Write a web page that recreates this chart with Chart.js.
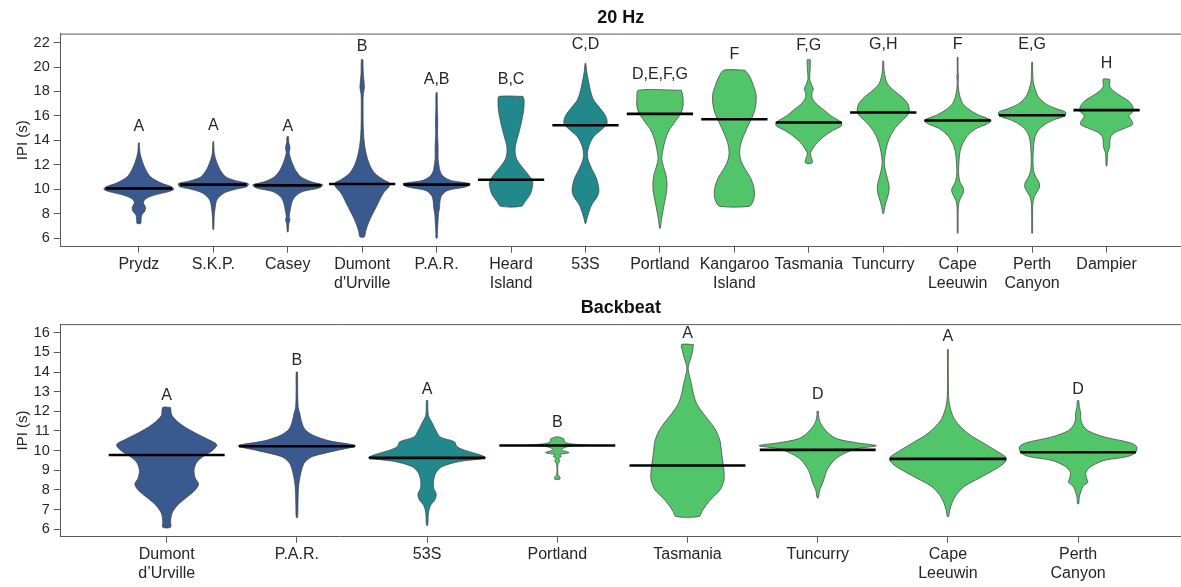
<!DOCTYPE html>
<html>
<head>
<meta charset="utf-8">
<script src="https://cdn.jsdelivr.net/npm/chart.js@4.4.1/dist/chart.umd.min.js"></script>
<style>
  body { margin: 0; background: #fff; }
  canvas { display: block; }
</style>
</head>
<body>
<canvas id="hzChart" width="1181" height="295"></canvas>
<canvas id="bbChart" width="1181" height="292"></canvas>
<script>
// ---- 20 Hz panel ----
var hzSites = ['Prydz', 'S.K.P.', 'Casey', ['Dumont', 'd\'Urville'], 'P.A.R.', ['Heard', 'Island'], '53S',
    'Portland', ['Kangaroo', 'Island'], 'Tasmania', 'Tuncurry', ['Cape', 'Leeuwin'], ['Perth', 'Canyon'], 'Dampier'];
var hzMedians = [10.07, 10.37, 10.31, 10.42, 10.37, 10.77, 15.24, 16.17, 15.73, 15.46, 16.28, 15.62, 16.06, 16.47];
var hzLetters = ['A', 'A', 'A', 'B', 'A,B', 'B,C', 'C,D', 'D,E,F,G', 'F', 'F,G', 'G,H', 'F', 'E,G', 'H'];
var hzLetterY = [15.13, 15.19, 15.13, 21.67, 18.95, 18.95, 21.81, 19.36, 20.99, 21.73, 21.81, 21.81, 21.81, 20.31];
var hzTicks = [6, 8, 10, 12, 14, 16, 18, 20, 22];
// violin outlines: [IPI, half width] from top to bottom
var hzProfiles = [
    [[13.8, 0.005], [13.0, 0.015], [12.3, 0.045], [11.5, 0.1], [11.0, 0.16], [10.5, 0.3], [10.2, 0.44], [10.0, 0.47],
     [9.8, 0.4], [9.5, 0.2], [9.2, 0.09], [8.9, 0.06], [8.5, 0.09], [8.2, 0.08], [7.9, 0.04], [7.5, 0.03], [7.2, 0.025]],
    [[13.9, 0.005], [13.0, 0.012], [12.5, 0.03], [12.0, 0.06], [11.5, 0.1], [11.0, 0.17], [10.7, 0.3], [10.45, 0.47],
     [10.2, 0.45], [10.0, 0.3], [9.7, 0.15], [9.3, 0.07], [9.0, 0.04], [8.5, 0.025], [8.0, 0.015], [7.5, 0.01], [7.0, 0.008], [6.7, 0.005]],
    [[14.3, 0.01], [13.8, 0.015], [13.4, 0.03], [13.0, 0.02], [12.5, 0.04], [12.0, 0.07], [11.5, 0.11], [11.0, 0.18],
     [10.6, 0.32], [10.35, 0.47], [10.1, 0.42], [9.8, 0.2], [9.4, 0.1], [9.0, 0.06], [8.5, 0.04], [8.0, 0.025],
     [7.7, 0.02], [7.5, 0.03], [7.2, 0.015], [6.8, 0.01], [6.5, 0.005]],
    [[20.6, 0.01], [19.5, 0.015], [18.8, 0.025], [18.3, 0.03], [17.8, 0.015], [16.5, 0.012], [15.0, 0.015], [14.0, 0.025],
     [13.0, 0.05], [12.0, 0.1], [11.3, 0.17], [10.8, 0.28], [10.5, 0.37], [10.2, 0.36], [9.8, 0.3], [9.3, 0.25],
     [8.8, 0.21], [8.2, 0.16], [7.6, 0.11], [7.0, 0.07], [6.5, 0.045], [6.1, 0.03]],
    [[17.9, 0.008], [16.5, 0.01], [15.5, 0.015], [14.5, 0.012], [13.5, 0.02], [12.5, 0.02], [12.0, 0.03], [11.4, 0.05],
     [11.0, 0.1], [10.7, 0.2], [10.45, 0.45], [10.2, 0.4], [9.9, 0.15], [9.5, 0.07], [9.0, 0.045], [8.5, 0.04],
     [8.0, 0.025], [7.5, 0.02], [7.0, 0.015], [6.5, 0.01], [6.0, 0.008]],
    [[17.6, 0.16], [17.3, 0.175], [16.5, 0.17], [15.5, 0.14], [14.5, 0.1], [13.6, 0.06], [13.0, 0.055], [12.4, 0.08],
     [11.8, 0.15], [11.2, 0.23], [10.6, 0.29], [10.0, 0.28], [9.5, 0.25], [9.0, 0.19], [8.6, 0.14]],
    [[20.3, 0.005], [19.5, 0.02], [18.7, 0.045], [18.0, 0.07], [17.3, 0.11], [16.6, 0.2], [16.0, 0.27], [15.4, 0.29],
     [14.9, 0.22], [14.3, 0.11], [13.6, 0.05], [12.9, 0.025], [12.3, 0.04], [11.6, 0.09], [11.0, 0.14], [10.4, 0.17],
     [9.8, 0.18], [9.3, 0.15], [8.8, 0.09], [8.2, 0.05], [7.6, 0.02], [7.2, 0.005]],
    [[18.1, 0.29], [17.5, 0.31], [16.8, 0.31], [16.2, 0.28], [15.5, 0.2], [14.8, 0.12], [14.0, 0.07], [13.2, 0.04],
     [12.5, 0.025], [11.8, 0.05], [11.2, 0.08], [10.5, 0.095], [9.8, 0.09], [9.0, 0.065], [8.2, 0.04], [7.5, 0.02], [6.8, 0.005]],
    [[19.75, 0.14], [19.3, 0.2], [18.6, 0.25], [17.8, 0.29], [17.0, 0.29], [16.2, 0.26], [15.4, 0.2], [14.6, 0.14],
     [13.8, 0.09], [13.0, 0.07], [12.3, 0.09], [11.6, 0.15], [10.9, 0.22], [10.2, 0.26], [9.5, 0.27], [9.0, 0.25], [8.6, 0.2]],
    [[20.6, 0.02], [20.0, 0.02], [19.5, 0.015], [19.0, 0.012], [18.6, 0.035], [18.2, 0.06], [17.8, 0.04], [17.4, 0.05],
     [17.0, 0.1], [16.5, 0.2], [16.0, 0.3], [15.5, 0.43], [15.2, 0.44], [14.8, 0.32], [14.3, 0.2], [13.8, 0.11],
     [13.3, 0.05], [12.9, 0.02], [12.5, 0.04], [12.15, 0.045]],
    [[20.5, 0.005], [19.8, 0.01], [19.2, 0.025], [18.6, 0.06], [18.0, 0.16], [17.5, 0.26], [17.0, 0.33], [16.5, 0.35],
     [16.1, 0.33], [15.6, 0.25], [15.0, 0.16], [14.4, 0.1], [13.8, 0.06], [13.2, 0.035], [12.6, 0.02], [12.1, 0.015],
     [11.5, 0.03], [10.9, 0.055], [10.2, 0.08], [9.6, 0.07], [9.0, 0.04], [8.5, 0.02], [8.0, 0.005]],
    [[20.8, 0.005], [19.5, 0.006], [19.2, 0.012], [18.8, 0.006], [18.2, 0.012], [17.6, 0.03], [17.0, 0.07], [16.5, 0.16],
     [16.1, 0.27], [15.8, 0.4], [15.6, 0.45], [15.3, 0.38], [15.0, 0.26], [14.5, 0.15], [14.0, 0.09], [13.4, 0.045],
     [12.8, 0.025], [12.0, 0.015], [11.3, 0.012], [10.6, 0.03], [10.1, 0.075], [9.8, 0.08], [9.4, 0.05], [9.0, 0.02],
     [8.4, 0.008], [7.5, 0.006], [6.4, 0.005]],
    [[20.4, 0.005], [19.5, 0.008], [18.8, 0.015], [18.2, 0.04], [17.6, 0.08], [17.0, 0.18], [16.6, 0.32], [16.3, 0.45],
     [16.0, 0.44], [15.7, 0.3], [15.3, 0.17], [14.8, 0.08], [14.2, 0.035], [13.5, 0.02], [12.5, 0.012], [11.5, 0.02],
     [11.0, 0.05], [10.6, 0.09], [10.2, 0.1], [9.8, 0.07], [9.4, 0.03], [8.8, 0.01], [7.5, 0.006], [6.4, 0.005]],
    [[19.0, 0.045], [18.4, 0.045], [18.0, 0.1], [17.6, 0.2], [17.2, 0.3], [16.8, 0.35], [16.4, 0.36], [16.0, 0.3],
     [15.6, 0.34], [15.3, 0.35], [15.0, 0.25], [14.6, 0.1], [14.2, 0.05], [13.8, 0.045], [13.4, 0.04], [13.0, 0.015],
     [12.5, 0.01], [11.9, 0.005]]
];

// ---- Backbeat panel ----
var bbSites = [['Dumont', 'd\u2019Urville'], 'P.A.R.', '53S', 'Portland', 'Tasmania', 'Tuncurry', ['Cape', 'Leeuwin'], ['Perth', 'Canyon']];
var bbMedians = [9.78, 10.22, 9.63, 10.26, 9.24, 10.04, 9.58, 9.92];
var bbLetters = ['A', 'B', 'A', 'B', 'A', 'D', 'A', 'D'];
var bbLetterY = [12.81, 14.6, 13.12, 11.42, 15.97, 12.85, 15.8, 13.12];
var bbTicks = [6, 7, 8, 9, 10, 11, 12, 13, 14, 15, 16];
var bbProfiles = [
    [[12.2, 0.03], [11.8, 0.04], [11.5, 0.08], [11.2, 0.14], [10.9, 0.22], [10.6, 0.31], [10.3, 0.385], [10.0, 0.35],
     [9.7, 0.28], [9.4, 0.23], [9.0, 0.21], [8.6, 0.22], [8.3, 0.245], [8.0, 0.22], [7.6, 0.15], [7.2, 0.08],
     [6.8, 0.04], [6.4, 0.03], [6.1, 0.03]],
    [[14.0, 0.005], [13.0, 0.006], [12.2, 0.01], [11.9, 0.022], [11.5, 0.035], [11.1, 0.06], [10.8, 0.12], [10.5, 0.25],
     [10.25, 0.45], [10.0, 0.3], [9.7, 0.12], [9.4, 0.06], [9.1, 0.04], [8.7, 0.025], [8.3, 0.015], [7.8, 0.01],
     [7.2, 0.008], [6.6, 0.005]],
    [[12.55, 0.005], [11.8, 0.01], [11.4, 0.04], [11.0, 0.07], [10.7, 0.1], [10.45, 0.21], [10.2, 0.23], [10.0, 0.3],
     [9.8, 0.4], [9.63, 0.45], [9.45, 0.25], [9.2, 0.12], [8.9, 0.07], [8.5, 0.05], [8.1, 0.05], [7.8, 0.07],
     [7.5, 0.06], [7.2, 0.025], [6.8, 0.01], [6.2, 0.005]],
    [[10.7, 0.01], [10.6, 0.05], [10.45, 0.055], [10.35, 0.1], [10.27, 0.23], [10.2, 0.08], [10.05, 0.03], [9.9, 0.09],
     [9.8, 0.02], [9.7, 0.03], [9.6, 0.01], [9.5, 0.02], [9.3, 0.005], [8.8, 0.004], [8.65, 0.02], [8.55, 0.02]],
    [[15.4, 0.045], [15.1, 0.04], [14.7, 0.025], [14.4, 0.01], [14.15, 0.005], [13.8, 0.015], [13.4, 0.03], [12.9, 0.045],
     [12.4, 0.07], [11.9, 0.12], [11.4, 0.18], [11.0, 0.22], [10.5, 0.25], [10.0, 0.26], [9.5, 0.27], [9.0, 0.28],
     [8.5, 0.28], [8.0, 0.25], [7.6, 0.19], [7.2, 0.14], [6.9, 0.11], [6.65, 0.09]],
    [[12.0, 0.006], [11.8, 0.006], [11.5, 0.015], [11.2, 0.04], [10.9, 0.08], [10.6, 0.15], [10.4, 0.3], [10.25, 0.45],
     [10.1, 0.3], [9.9, 0.22], [9.6, 0.14], [9.3, 0.1], [9.0, 0.07], [8.6, 0.05], [8.3, 0.035], [8.0, 0.015], [7.6, 0.005]],
    [[15.15, 0.003], [14.0, 0.003], [13.0, 0.004], [12.5, 0.008], [12.0, 0.025], [11.6, 0.05], [11.2, 0.1], [10.8, 0.17],
     [10.4, 0.27], [10.0, 0.37], [9.7, 0.44], [9.55, 0.45], [9.3, 0.42], [9.0, 0.35], [8.6, 0.24], [8.2, 0.13],
     [7.8, 0.07], [7.4, 0.035], [7.0, 0.015], [6.65, 0.005]],
    [[12.55, 0.005], [12.2, 0.01], [11.9, 0.02], [11.6, 0.02], [11.3, 0.035], [11.0, 0.08], [10.7, 0.2], [10.4, 0.4],
     [10.2, 0.45], [9.9, 0.44], [9.7, 0.38], [9.5, 0.2], [9.2, 0.1], [8.9, 0.06], [8.6, 0.065], [8.4, 0.075],
     [8.2, 0.04], [7.9, 0.02], [7.6, 0.008], [7.3, 0.005]]
];

// colours
var BLUE = '#3a5a8f';
var TEAL = '#21898b';
var GREEN = '#52c46a';
var hzFill = [BLUE, BLUE, BLUE, BLUE, BLUE, TEAL, TEAL, GREEN, GREEN, GREEN, GREEN, GREEN, GREEN, GREEN];
var bbFill = [BLUE, BLUE, TEAL, GREEN, GREEN, GREEN, GREEN, GREEN];

var FONT = '"Liberation Sans", Arial, Helvetica, sans-serif';
var AXIS = '#5a5a5a';
var TEXT = '#262626';
var MEDIAN_HALF = 0.445;

// outline of one violin: down the right side, back up the left side
function violinPoints(profile, i) {
    var right = profile.map(function (p) { return { x: i + p[1], y: p[0] }; });
    var left = profile.slice().reverse().map(function (p) { return { x: i - p[1], y: p[0] }; });
    var pts = right.concat(left);
    pts.push(right[0]);
    return pts;
}

// top border of the panel box
var topLine = {
    id: 'topLine',
    afterDraw: function (chart) {
        var a = chart.chartArea, ctx = chart.ctx;
        ctx.save();
        ctx.strokeStyle = AXIS;
        ctx.lineWidth = 1;
        ctx.beginPath();
        ctx.moveTo(a.left, a.top + 0.5);
        ctx.lineTo(a.right, a.top + 0.5);
        ctx.stroke();
        ctx.restore();
    }
};

// significance letters above each violin
var letterLabels = {
    id: 'letterLabels',
    afterDatasetsDraw: function (chart, args, opts) {
        var ctx = chart.ctx, xs = chart.scales.x, ys = chart.scales.y;
        ctx.save();
        ctx.font = '16px ' + FONT;
        ctx.fillStyle = TEXT;
        ctx.textAlign = 'center';
        ctx.textBaseline = 'middle';
        opts.letters.forEach(function (t, i) {
            ctx.fillText(t, xs.getPixelForValue(i), ys.getPixelForValue(opts.y[i]));
        });
        ctx.restore();
    }
};

function makePanel(id, cfg) {
    var datasets = [];
    cfg.profiles.forEach(function (p, i) {
        datasets.push({
            data: violinPoints(p, i),
            backgroundColor: cfg.fill[i],
            borderColor: '#3c3c3c',
            borderWidth: 0.7,
            fill: 'shape',
            pointRadius: 0,
            tension: 0.3,
            order: 2
        });
    });
    cfg.medians.forEach(function (m, i) {
        datasets.push({
            data: [{ x: i - MEDIAN_HALF, y: m }, { x: i + MEDIAN_HALF, y: m }],
            borderColor: '#000',
            borderWidth: 2.6,
            fill: false,
            pointRadius: 0,
            order: 1
        });
    });

    return new Chart(document.getElementById(id), {
        type: 'line',
        data: { datasets: datasets },
        plugins: [topLine, letterLabels],
        options: {
            responsive: false,
            animation: false,
            layout: { padding: { left: 0, right: 0, top: 0, bottom: 0 } },
            plugins: {
                legend: { display: false },
                tooltip: { enabled: false },
                title: {
                    display: true,
                    text: cfg.title,
                    fullSize: false,
                    color: '#111',
                    font: { family: FONT, size: 18, weight: 'bold' },
                    padding: cfg.titlePad
                },
                letterLabels: { letters: cfg.letters, y: cfg.letterY }
            },
            scales: {
                x: {
                    type: 'linear',
                    min: cfg.xMin,
                    max: cfg.xMax,
                    afterBuildTicks: function (s) {
                        s.ticks = cfg.sites.map(function (_, i) { return { value: i }; });
                    },
                    afterFit: function (s) { s.height = cfg.xHeight; },
                    border: { display: true, color: AXIS, width: 1 },
                    grid: { drawOnChartArea: false, drawTicks: true, tickLength: 6, color: AXIS },
                    ticks: {
                        autoSkip: false,
                        maxRotation: 0,
                        minRotation: 0,
                        padding: 2,
                        color: TEXT,
                        font: { family: FONT, size: 16, lineHeight: 1.2 },
                        callback: function (v) { return cfg.sites[v]; }
                    }
                },
                y: {
                    min: cfg.yMin,
                    max: cfg.yMax,
                    afterBuildTicks: function (s) {
                        s.ticks = cfg.yTicks.map(function (v) { return { value: v }; });
                    },
                    afterFit: function (s) { s.width = 60.7; },
                    border: { display: true, color: AXIS, width: 1 },
                    grid: { drawOnChartArea: false, drawTicks: true, tickLength: 7, color: AXIS },
                    ticks: { padding: 4, color: TEXT, font: { family: FONT, size: 14.5 } },
                    title: {
                        display: true,
                        text: 'IPI (s)',
                        color: TEXT,
                        font: { family: FONT, size: 15 },
                        padding: { top: 14, bottom: 0 }
                    }
                }
            }
        }
    });
}

makePanel('hzChart', {
    title: '20 Hz', titlePad: { top: 7, bottom: 5 },
    sites: hzSites, profiles: hzProfiles, medians: hzMedians, fill: hzFill,
    letters: hzLetters, letterY: hzLetterY, yTicks: hzTicks,
    xMin: -1.05, xMax: 14.0, yMin: 5.29, yMax: 22.74, xHeight: 48.3
});

makePanel('bbChart', {
    title: 'Backbeat', titlePad: { top: 2.5, bottom: 5 },
    sites: bbSites, profiles: bbProfiles, medians: bbMedians, fill: bbFill,
    letters: bbLetters, letterY: bbLetterY, yTicks: bbTicks,
    xMin: -0.814, xMax: 7.79, yMin: 5.62, yMax: 16.44, xHeight: 50.3
});
</script>
</body>
</html>
